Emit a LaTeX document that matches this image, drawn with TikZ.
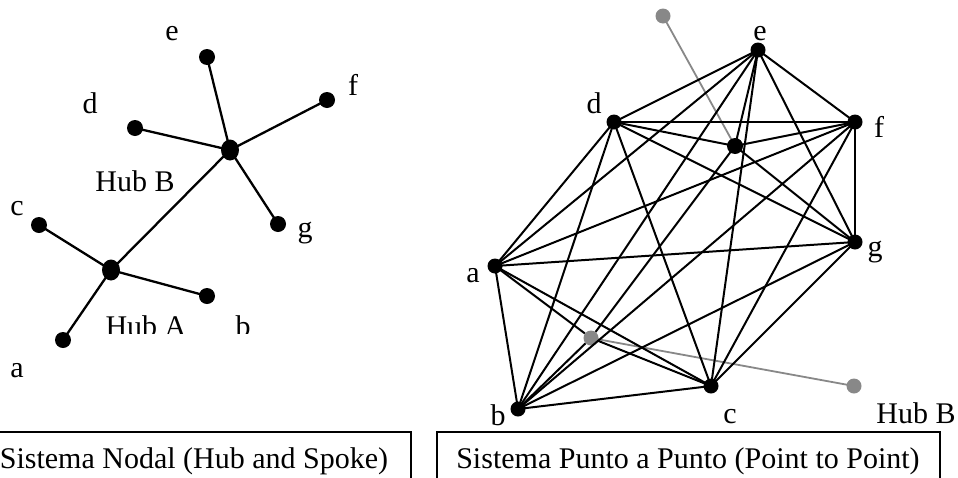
\documentclass[tikz,border=0pt]{standalone}
\usepackage{fontspec}
\setmainfont{Liberation Serif}
\usetikzlibrary{shapes.geometric}
\definecolor{hubgrey}{RGB}{136,136,136}
\tikzset{
  lbl/.style={anchor=base, inner sep=0pt, font=\fontsize{30}{36}\selectfont},
  ldot/.style={circle, fill=black, inner sep=0pt, minimum size=16pt},
  lhub/.style={ellipse, fill=black, inner sep=0pt, minimum width=18pt, minimum height=21pt},
  rdot/.style={circle, fill=black, inner sep=0pt, minimum size=15pt},
  rhub/.style={circle, fill=black, inner sep=0pt, minimum size=16pt},
  gdot/.style={circle, fill=hubgrey, inner sep=0pt, minimum size=15pt},
  spoke/.style={line width=2.3pt, black},
  link/.style={line width=2pt, black},
  glink/.style={line width=1.8pt, hubgrey},
  capbox/.style={line width=1.6pt, black},
}
\begin{document}
\begin{tikzpicture}[x=1pt,y=-1pt]
\useasboundingbox (0,0) rectangle (958,477);

% ---------- hub and spoke ----------
\node[ldot] (le) at (207,57) {};
\node[ldot] (lf) at (327,100) {};
\node[ldot] (ld) at (135,128) {};
\node[lhub] (lB) at (230,150) {};
\node[ldot] (lg) at (278,224) {};
\node[ldot] (lc) at (39,225) {};
\node[lhub] (lA) at (111,270) {};
\node[ldot] (lb) at (207,296) {};
\node[ldot] (la) at (63,340) {};

\foreach \u/\v in {lB/le, lB/lf, lB/ld, lB/lg, lB/lA, lA/lc, lA/lb, lA/la}
  \draw[spoke] (\u.center) -- (\v.center);

\node[lbl] (tle) at (172,40) {e};
\node[lbl] (tlf) at (353,95) {f};
\node[lbl] (tld) at (90,113) {d};
\node[lbl] (tlB) at (135,191) {Hub B};
\node[lbl] (tlc) at (17,215) {c};
\node[lbl] (tlg) at (305,237) {g};
\begin{scope}
  \clip (90,300) rectangle (280,333);
  \node[lbl] (tlA) at (146,336) {Hub A};
  \node[lbl] (tlb) at (243,336) {b};
\end{scope}
\node[lbl] (tla) at (17,377) {a};

% ---------- point to point ----------
\node[gdot] (rT) at (663,16) {};
\node[gdot] (rA) at (591,338) {};
\node[gdot] (rG) at (854,386) {};
\draw[glink] (rT.center) -- (735,146);
\draw[glink] (rA.center) -- (rG.center);

\coordinate (re) at (758,50);
\coordinate (rd) at (614,122);
\coordinate (rf) at (855,122);
\coordinate (rH) at (735,146);
\coordinate (rg) at (855,242);
\coordinate (ra) at (495,266);
\coordinate (rc) at (711,386);
\coordinate (rb) at (518,409);

\foreach \u/\v in {ra/rb, ra/rc, ra/rd, ra/re, ra/rf, ra/rg,
                   rb/rc, rb/rd, rb/re, rb/rf, rb/rg,
                   rc/rd, rc/re, rc/rf, rc/rg,
                   rd/re, rd/rf, rd/rg,
                   re/rf, re/rg,
                   rf/rg,
                   rH/rd, rH/re, rH/rf, rH/rg, rH/rA,
                   rA/ra, rA/rb, rA/rc}
  \draw[link] (\u) -- (\v);

\foreach \p in {re, rd, rf, rg, ra, rc, rb}
  \node[rdot] (\p dot) at (\p) {};
\node[rhub] (rHdot) at (rH) {};

\node[lbl] (tre) at (760,40) {e};
\node[lbl] (trd) at (594,113) {d};
\node[lbl] (trf) at (879,137) {f};
\node[lbl] (trg) at (875,256) {g};
\node[lbl] (tra) at (473,282) {a};
\node[lbl] (trb) at (498,425) {b};
\node[lbl] (trc) at (730,423) {c};
\node[lbl] (trH) at (916,423) {Hub B};

% ---------- captions ----------
\draw[capbox] (-20,432) rectangle (411,500);
\node[lbl] (capL) at (194,468) {Sistema Nodal (Hub and Spoke)};
\draw[capbox] (437,432) rectangle (940,500);
\node[lbl] (capR) at (688,468) {Sistema Punto a Punto (Point to Point)};
\end{tikzpicture}
\end{document}
